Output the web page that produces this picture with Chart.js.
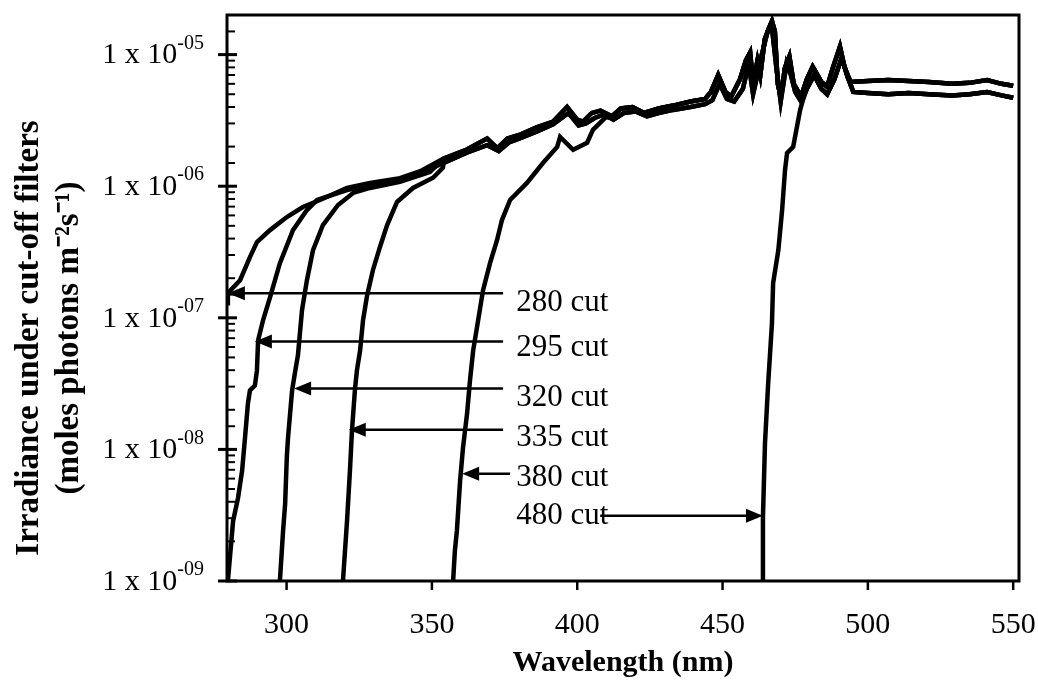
<!DOCTYPE html>
<html>
<head>
<meta charset="utf-8">
<script src="https://cdn.jsdelivr.net/npm/chart.js@4/dist/chart.umd.min.js"></script>
<style>
  body { margin: 0; background: #fff; }
</style>
</head>
<body>
<canvas id="chart" width="1038" height="689"></canvas>
<script>
var xTicks = [300, 350, 400, 450, 500, 550];
var yExp = ['-09', '-08', '-07', '-06', '-05'];
var yTitle = ['Irradiance under cut-off filters', '(moles photons m\u207B\u00B2s\u207B\u00B9)'];

// rising part of each cut-off filter curve (nm, moles photons m-2 s-1)
var wl280 = [279.5, 279.8, 284.0, 287.4, 289.8, 294.3, 300.1, 305.6, 311.5, 320.8, 328.7];
var irr280 = [1.29e-7, 1.54e-7, 1.93e-7, 2.89e-7, 3.76e-7, 4.64e-7, 5.83e-7, 6.95e-7, 7.86e-7, 9.7e-7, 1.06e-6];

var wl295 = [279.8, 281.6, 283.3, 284.7, 285.7, 286.7, 287.4, 289.1, 289.8, 290.2, 291.9, 294.3, 297.7, 302.2, 307.0, 310.5, 320.8, 328.7];
var irr295 = [1.0e-9, 2.86e-9, 4.28e-9, 6.89e-9, 1.23e-8, 2.23e-8, 2.81e-8, 3.06e-8, 3.98e-8, 6.74e-8, 9.57e-8, 1.43e-7, 2.6e-7, 4.64e-7, 6.59e-7, 7.86e-7, 9.36e-7, 1.02e-6];

var wl320 = [297.7, 298.8, 299.5, 300.1, 300.5, 301.9, 302.9, 303.9, 305.3, 307.0, 309.1, 312.5, 317.7, 322.9, 328.7, 339.0, 349.3];
var irr320 = [1e-9, 2.41e-9, 3.86e-9, 8.95e-9, 1.23e-8, 2.81e-8, 3.85e-8, 5.18e-8, 1.14e-7, 1.93e-7, 3.27e-7, 5.07e-7, 7.2e-7, 8.89e-7, 9.7e-7, 1.08e-6, 1.28e-6];

var wl335 = [319.4, 320.8, 321.8, 322.5, 323.5, 324.2, 325.3, 326.3, 327.7, 329.7, 332.1, 334.6, 338.0, 343.5, 350.4, 353.8];
var irr335 = [1e-9, 2.86e-9, 6.89e-9, 1.39e-8, 2.81e-8, 3.98e-8, 5.65e-8, 9.57e-8, 1.48e-7, 2.3e-7, 3.44e-7, 5.07e-7, 7.59e-7, 9.7e-7, 1.16e-6, 1.38e-6];

var wl380 = [357.3, 357.9, 358.6, 359.7, 360.7, 362.1, 363.1, 364.2, 365.9, 367.6, 370.0, 372.4, 374.1, 376.9, 382.7, 388.2, 393.1, 394.1, 398.6, 403.4, 405.4, 409.6];
var irr380 = [1e-9, 1.69e-9, 2.41e-9, 5.78e-9, 1.03e-8, 1.87e-8, 3.34e-8, 5.65e-8, 9.57e-8, 1.62e-7, 2.6e-7, 3.89e-7, 5.53e-7, 7.86e-7, 1.06e-6, 1.5e-6, 1.99e-6, 2.37e-6, 1.89e-6, 2.14e-6, 2.68e-6, 3.31e-6];

var wl480 = [463.6, 463.9, 464.6, 465.7, 467.0, 467.4, 469.2, 470.5, 471.5, 472.2, 474.3, 476.7, 477.7];
var irr480 = [1e-9, 3.02e-9, 1.11e-8, 3.17e-8, 9.08e-8, 1.83e-7, 3.27e-7, 6.59e-7, 1.33e-6, 1.79e-6, 1.99e-6, 3.81e-6, 4.54e-6];

// plateau once the filters pass everything: upper and lower trace
var hiWl = [339, 346, 354, 362, 369, 372.5, 376, 380, 386, 391.7, 396.5, 400, 402, 405, 408, 412, 415, 419, 423, 428, 433, 439, 444, 446, 448.5, 451, 453, 456, 458, 459.5, 460.5, 462, 463, 464.5, 466, 467, 468, 469, 470, 471.5, 473, 474.5, 477, 479, 481, 484, 486, 488, 490.4, 492, 494, 500, 507, 514, 521, 529, 535, 541, 546, 550];
var hiIrr = [1.15e-6, 1.3e-6, 1.62e-6, 1.9e-6, 2.3e-6, 1.95e-6, 2.3e-6, 2.45e-6, 2.8e-6, 3.1e-6, 4.0e-6, 3.2e-6, 3.1e-6, 3.6e-6, 3.75e-6, 3.4e-6, 3.9e-6, 4.0e-6, 3.6e-6, 3.9e-6, 4.1e-6, 4.4e-6, 4.6e-6, 5.2e-6, 7.0e-6, 5.2e-6, 4.8e-6, 6.5e-6, 9.0e-6, 1.04e-5, 6.0e-6, 9.0e-6, 7.0e-6, 1.3e-5, 1.6e-5, 1.8e-5, 1.5e-5, 6.0e-6, 4.8e-6, 8.0e-6, 9.7e-6, 6.0e-6, 4.8e-6, 6.5e-6, 8.1e-6, 6.2e-6, 5.7e-6, 8.0e-6, 1.15e-5, 8.0e-6, 6.2e-6, 6.3e-6, 6.4e-6, 6.3e-6, 6.2e-6, 6.0e-6, 6.1e-6, 6.4e-6, 6.0e-6, 5.8e-6];
var loWl = [339, 346, 354, 362, 369, 373, 376.5, 380, 386, 391.7, 397, 400.5, 403, 406, 409, 412.5, 416, 420, 424, 428, 433, 439, 444, 446.5, 449, 451.5, 454, 457, 459, 460.5, 462, 463.5, 465.5, 467, 468.5, 470, 472, 473.5, 475, 477, 479, 481.5, 484, 486, 488.5, 491, 493, 495, 500, 507, 514, 521, 529, 535, 541, 546, 550];
var loIrr = [1.1e-6, 1.25e-6, 1.5e-6, 1.8e-6, 2.05e-6, 1.85e-6, 2.15e-6, 2.3e-6, 2.6e-6, 2.95e-6, 3.6e-6, 2.9e-6, 3.0e-6, 3.3e-6, 3.5e-6, 3.2e-6, 3.6e-6, 3.7e-6, 3.4e-6, 3.6e-6, 3.8e-6, 4.0e-6, 4.2e-6, 4.5e-6, 6.0e-6, 4.6e-6, 4.4e-6, 5.5e-6, 8.5e-6, 5.0e-6, 7.0e-6, 1.0e-5, 1.5e-5, 1.6e-5, 8.0e-6, 4.4e-6, 8.5e-6, 7.0e-6, 5.2e-6, 4.4e-6, 5.5e-6, 7.0e-6, 5.5e-6, 5.0e-6, 6.5e-6, 9.5e-6, 6.8e-6, 5.2e-6, 5.1e-6, 5.0e-6, 5.1e-6, 5.0e-6, 4.9e-6, 5.0e-6, 5.2e-6, 4.9e-6, 4.7e-6];

// arrows and their labels
var cutNames = ['280 cut', '295 cut', '320 cut', '335 cut', '380 cut', '480 cut'];
var arrowY = [1.54e-7, 6.62e-8, 2.9e-8, 1.41e-8, 6.53e-9, 3.13e-9];
var arrowTip = [279.8, 289.1, 302.6, 321.4, 360.4, 463.9];
var arrowTail = [374.5, 374.5, 374.5, 374.5, 376.9, 407.9];
var labelY = [1.31e-7, 5.96e-8, 2.48e-8, 1.23e-8, 6.1e-9, 3.13e-9];
var labelWl = 379;

function series(wl, irr, envWl, envIrr) {
    var pts = wl.map(function (w, i) { return {x: w, y: irr[i]}; });
    var last = wl[wl.length - 1];
    envWl.forEach(function (w, i) {
        if (w > last) pts.push({x: w, y: envIrr[i]});
    });
    return pts;
}

var curves = [
    series(wl280, irr280, hiWl, hiIrr),
    series(wl295, irr295, loWl, loIrr),
    series(wl320, irr320, hiWl, hiIrr),
    series(wl335, irr335, loWl, loIrr),
    series(wl380, irr380, hiWl, hiIrr),
    series(wl480, irr480, loWl, loIrr)
];

var serif = 'Liberation Serif, Times New Roman, serif';

function isDecade(v) {
    var l = Math.log10(v);
    return Math.abs(l - Math.round(l)) < 1e-6;
}

var decor = {
    id: 'decor',
    afterDatasetsDraw: function (chart) {
        var ctx = chart.ctx, a = chart.chartArea;
        var xs = chart.scales.x, ys = chart.scales.y;
        ctx.save();
        ctx.strokeStyle = '#000';
        ctx.fillStyle = '#000';

        ctx.lineWidth = 3;
        ctx.strokeRect(a.left, a.top, a.right - a.left, a.bottom - a.top);

        // y ticks: decades cross the axis, minor ones point inwards
        ys.ticks.forEach(function (t) {
            if (t.value < 1e-9 || t.value > 1.5e-5) return;
            var y = ys.getPixelForValue(t.value);
            ctx.beginPath();
            if (isDecade(t.value)) {
                ctx.lineWidth = 3;
                ctx.moveTo(a.left - 9, y);
                ctx.lineTo(a.left + 10, y);
            } else {
                ctx.lineWidth = 2;
                ctx.moveTo(a.left, y);
                ctx.lineTo(a.left + 8, y);
            }
            ctx.stroke();
        });

        // y labels 1 x 10^n
        var k = 0;
        ys.ticks.forEach(function (t) {
            if (!isDecade(t.value) || t.value > 1.5e-5) return;
            var y = ys.getPixelForValue(t.value);
            var sup = yExp[k++];
            ctx.textBaseline = 'middle';
            ctx.textAlign = 'right';
            ctx.font = '20px ' + serif;
            var sw = ctx.measureText(sup).width;
            ctx.fillText(sup, 204, y - 11);
            ctx.font = '30px ' + serif;
            ctx.fillText('1 x 10', 204 - sw, y + 1);
        });

        // y title, two lines
        ctx.save();
        ctx.translate(29, 338);
        ctx.rotate(-Math.PI / 2);
        ctx.textAlign = 'center';
        ctx.textBaseline = 'middle';
        ctx.font = 'bold 33px ' + serif;
        ctx.fillText(yTitle[0], 0, 0);
        ctx.fillText(yTitle[1], 0, 40);
        ctx.restore();

        // x ticks point down
        ctx.lineWidth = 2.5;
        xs.ticks.forEach(function (t) {
            var x = xs.getPixelForValue(t.value);
            ctx.beginPath();
            ctx.moveTo(x, a.bottom);
            ctx.lineTo(x, a.bottom + 9);
            ctx.stroke();
        });

        // arrows
        ctx.font = '31px ' + serif;
        ctx.textAlign = 'left';
        ctx.textBaseline = 'middle';
        cutNames.forEach(function (name, i) {
            var y = ys.getPixelForValue(arrowY[i]);
            var tip = xs.getPixelForValue(arrowTip[i]);
            var tail = xs.getPixelForValue(arrowTail[i]);
            var dir = tail > tip ? 1 : -1;
            ctx.fillText(name, xs.getPixelForValue(labelWl), ys.getPixelForValue(labelY[i]));
            ctx.lineWidth = 2.5;
            ctx.beginPath();
            ctx.moveTo(tail, y);
            ctx.lineTo(tip + dir * 10, y);
            ctx.stroke();
            ctx.beginPath();
            ctx.moveTo(tip, y);
            ctx.lineTo(tip + dir * 17, y - 7);
            ctx.lineTo(tip + dir * 17, y + 7);
            ctx.closePath();
            ctx.fill();
        });
        ctx.restore();
    }
};

new Chart(document.getElementById('chart'), {
    type: 'line',
    data: {
        datasets: curves.map(function (c, i) {
            return {
                label: cutNames[i],
                data: c,
                borderColor: '#000',
                borderWidth: 4.5,
                pointRadius: 0,
                tension: 0,
                fill: false
            };
        })
    },
    options: {
        responsive: false,
        animation: false,
        layout: {padding: {top: 15, right: 19, left: 0, bottom: 0}},
        plugins: {
            legend: {display: false},
            tooltip: {enabled: false}
        },
        scales: {
            x: {
                type: 'linear',
                min: 279.5,
                max: 552,
                afterFit: function (s) {
                    s.height = 108;
                    s.paddingLeft = 0;
                    s.paddingRight = 0;
                },
                grid: {display: false, drawTicks: false},
                border: {display: false},
                afterBuildTicks: function (s) {
                    s.ticks = xTicks.map(function (v) { return {value: v}; });
                },
                ticks: {
                    padding: 26,
                    color: '#000',
                    font: {family: serif, size: 30}
                },
                title: {
                    display: true,
                    text: 'Wavelength (nm)',
                    color: '#000',
                    font: {family: serif, size: 30, weight: 'bold'},
                    padding: {top: 0, bottom: 8}
                }
            },
            y: {
                type: 'logarithmic',
                min: 1e-9,
                max: 2e-5,
                afterFit: function (s) {
                    s.width = 227;
                    s.paddingTop = 0;
                    s.paddingBottom = 0;
                },
                grid: {display: false, drawTicks: false},
                border: {display: false},
                ticks: {display: false, autoSkip: false}
            }
        }
    },
    plugins: [decor]
});
</script>
</body>
</html>
